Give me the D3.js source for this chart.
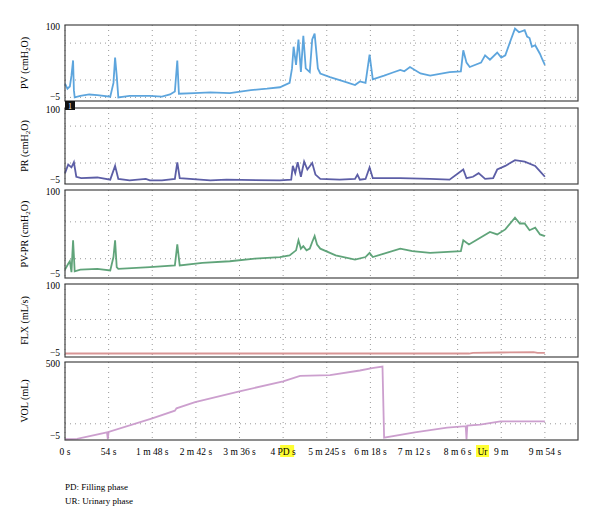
<!DOCTYPE html>
<html><head><meta charset="utf-8">
<script src="https://cdn.jsdelivr.net/npm/d3@7"></script>
<style>body{margin:0;background:#fff}</style></head>
<body><svg id="c" width="600" height="532"></svg>
<script>
const tickSeconds=[0,54,108,162,216,270,324,378,432,486,540,594];
const tickLabels=["0 s","54 s","1 m 48 s","2 m 42 s","3 m 36 s","4 PD s","5 m 245 s","6 m 18 s","7 m 12 s","8 m 6 s","9 m","9 m 54 s"];
const pvData=[[0,19],[3,12],[6,15],[8,30],[10,51],[11,10],[12,0],[19,2],[30,4],[40,3],[56,1],[60,20],[62,55],[64,30],[66,0],[80,2],[105,2],[120,1],[130,4],[136,8],[139,51],[141,5],[160,6],[180,7],[204,6],[230,10],[250,12],[266,14],[278,20],[281,40],[283,70],[286,45],[289,80],[292,35],[295,85],[298,40],[303,35],[306,80],[309,88],[313,40],[316,33],[328,28],[345,22],[359,17],[365,22],[372,20],[377,59],[381,25],[395,30],[405,34],[415,38],[420,36],[427,42],[440,33],[452,30],[476,35],[490,36],[493,65],[497,48],[501,42],[515,48],[520,58],[526,52],[535,62],[540,55],[545,58],[552,80],[557,95],[562,90],[569,93],[572,84],[575,82],[578,70],[582,72],[588,60],[591,52],[594,45]];
const prData=[[0,10],[4,22],[8,18],[11,25],[14,5],[20,3],[40,4],[56,1],[62,20],[66,2],[80,0],[100,2],[105,0],[120,0],[136,2],[139,25],[142,3],[180,0],[200,1],[266,0],[280,1],[282,20],[285,10],[288,25],[292,5],[296,26],[300,15],[306,24],[310,8],[316,2],[340,1],[359,2],[362,8],[365,1],[372,2],[377,18],[381,3],[415,3],[452,2],[476,1],[493,15],[497,3],[505,5],[512,10],[520,2],[530,3],[535,15],[545,20],[557,28],[569,26],[582,20],[590,10],[594,5]];
const diffData=[[0,5],[4,12],[6,15],[8,2],[10,40],[12,3],[19,5],[40,6],[56,4],[60,20],[62,40],[64,8],[66,6],[105,8],[136,10],[139,35],[142,10],[170,13],[204,15],[235,18],[266,20],[278,22],[282,25],[286,28],[289,40],[292,30],[295,33],[299,28],[303,30],[306,38],[309,45],[312,35],[316,30],[335,22],[359,17],[372,20],[377,25],[381,20],[415,30],[430,27],[452,25],[490,27],[493,40],[500,35],[526,50],[535,47],[545,53],[557,67],[563,60],[569,60],[575,52],[582,55],[588,47],[594,45]];
const flxData=[[0,0],[500,0],[505,1],[540,1.5],[580,2],[585,1],[594,1]];
const volData=[[0,0],[15,2],[52,45],[53,0],[54,48],[108,135],[136,185],[138,200],[161,240],[216,310],[270,375],[291,410],[328,415],[365,445],[380,460],[393,470],[395,10],[433,45],[473,75],[496,85],[497,0],[498,88],[514,95],[539,115],[594,115]];

const svg=d3.select("#c");
const x=d3.scaleLinear().domain([0,635]).range([65,578]);
const font="Liberation Serif, DejaVu Serif, serif";
const panels=[
 {data:pvData,top:25,bot:101,min:-5,max:100,grid:[75,24,0],color:"#4b9bd9",label:["PV (cmH","2","O)"]},
 {data:prData,top:108,bot:184,min:-5,max:100,grid:[75,24],color:"#4a4c9c",label:["PR (cmH","2","O)"]},
 {data:diffData,top:190,bot:278,min:-5,max:100,grid:[62,18],color:"#4f9a6c",label:["PV-PR (cmH","2","O)"]},
 {data:flxData,top:284,bot:357,min:-5,max:100,grid:[49,23],color:"#d48a8a",label:["FLX (mL/s)"]},
 {data:volData,top:362,bot:440,min:-5,max:500,grid:[100],color:"#c795c9",label:["VOL (mL)"]}
];
panels.forEach(p=>{
 const y=d3.scaleLinear().domain([p.min,p.max]).range([p.bot,p.top]);
 const g=svg.append("g");
 tickSeconds.forEach(t=>g.append("line").attr("x1",x(t)).attr("x2",x(t)).attr("y1",p.top).attr("y2",p.bot).attr("stroke","#999").attr("stroke-dasharray","1,4"));
 p.grid.forEach(v=>g.append("line").attr("x1",65).attr("x2",578).attr("y1",y(v)).attr("y2",y(v)).attr("stroke","#999").attr("stroke-dasharray","1,4"));
 g.append("path").datum(p.data).attr("fill","none").attr("stroke",p.color).attr("stroke-width",1.8).attr("stroke-opacity",0.9)
  .attr("d",d3.line().x(d=>x(d[0])).y(d=>y(Math.min(d[1],p.max))));
 g.append("rect").attr("x",65).attr("y",p.top).attr("width",513).attr("height",p.bot-p.top).attr("fill","none").attr("stroke","#444").attr("stroke-width",1.2);
 g.append("text").attr("x",60).attr("y",p.top+5).attr("text-anchor","end").attr("font-family",font).attr("font-size",9.5).text(p.max);
 g.append("text").attr("x",60).attr("y",p.bot-1).attr("text-anchor","end").attr("font-family",font).attr("font-size",9.5).text("\u22125");
 const lt=g.append("text").attr("transform",`translate(28,${(p.top+p.bot)/2}) rotate(-90)`).attr("text-anchor","middle").attr("font-family",font).attr("font-size",10);
 lt.append("tspan").text(p.label[0]);
 if(p.label.length>1){lt.append("tspan").attr("font-size",7).attr("dy",2).text(p.label[1]);lt.append("tspan").attr("dy",-2).text(p.label[2]);}
});
// marker box
svg.append("rect").attr("x",65).attr("y",101).attr("width",10).attr("height",9).attr("fill","#111");
svg.append("text").attr("x",70).attr("y",109).attr("text-anchor","middle").attr("fill","#fff").attr("font-family",font).attr("font-size",8).text("1");
// x axis labels
tickSeconds.forEach((t,i)=>{
 if(i===5){
  svg.append("rect").attr("x",x(t)-3).attr("y",445).attr("width",14).attr("height",12).attr("fill","#ffff33");
 }
 svg.append("text").attr("x",x(t)).attr("y",455).attr("text-anchor","middle").attr("font-family",font).attr("font-size",9.5).text(tickLabels[i]);
});
svg.append("rect").attr("x",476).attr("y",445).attr("width",13).attr("height",12).attr("fill","#ffff33");
svg.append("text").attr("x",482.5).attr("y",455).attr("text-anchor","middle").attr("font-family",font).attr("font-size",9.5).text("Ur");
svg.append("text").attr("x",65).attr("y",490).attr("font-family",font).attr("font-size",9).text("PD: Filling phase");
svg.append("text").attr("x",65).attr("y",504).attr("font-family",font).attr("font-size",9).text("UR: Urinary phase");
</script></body></html>
